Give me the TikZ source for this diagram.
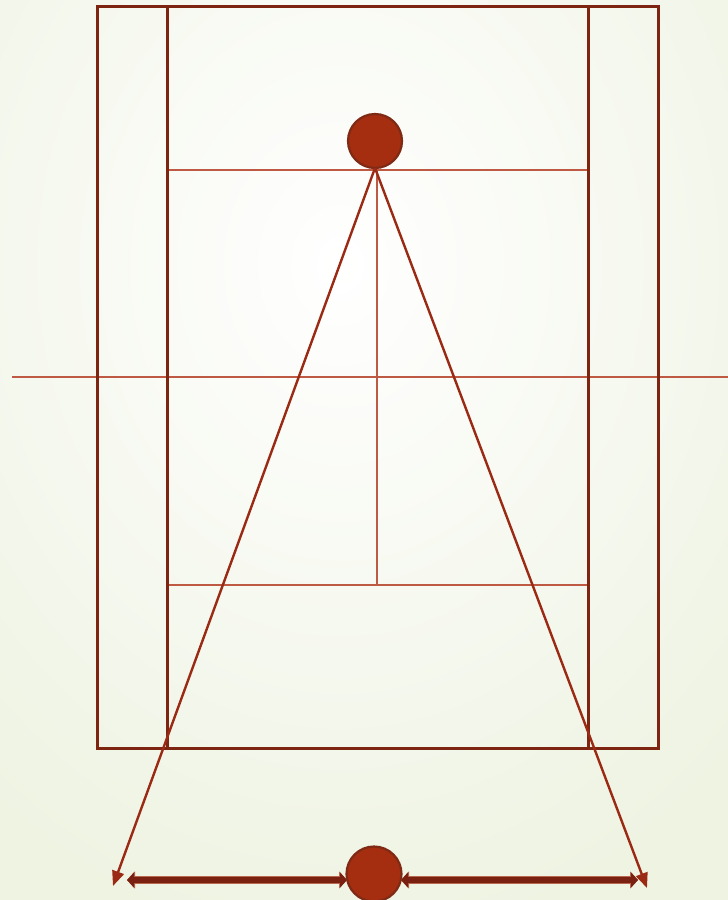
\documentclass[tikz,border=0pt]{standalone}
\usetikzlibrary{arrows.meta}
\definecolor{outerc}{HTML}{7E2512}
\definecolor{innerc}{HTML}{BE5A44}
\definecolor{ballc}{HTML}{A52D10}
\definecolor{balle}{HTML}{7F2A15}
\definecolor{rayc}{HTML}{9A2A14}
\definecolor{arrc}{HTML}{7A2010}
\definecolor{arrb}{HTML}{B8684F}
\definecolor{bgout}{HTML}{EEF3E2}
\begin{document}
\begin{tikzpicture}[x=1pt,y=-1pt,
  outerline/.style={draw=outerc,line width=3pt},
  innerline/.style={draw=innerc,line width=2.2pt},
  ball/.style={circle,fill=ballc,draw=balle,line width=2.2pt,inner sep=0pt},
  ray/.style={draw=rayc,line width=2.4pt,-{Triangle[length=15pt,width=12pt]}},
  widthar/.style={draw=arrc,line width=6pt,
    {Triangle[length=7pt,width=15pt]}-{Triangle[length=7pt,width=15pt]},
    preaction={draw=arrb,line width=8pt,{Triangle[length=8pt,width=17pt]}-{Triangle[length=8pt,width=17pt]}}}]
\useasboundingbox (0,0) rectangle (728,900);
\shade[inner color=white,outer color=bgout] (-220,-420) rectangle (900,950);
% court
\draw[innerline] (167,170) -- (588,170);
\draw[innerline] (167,585) -- (588,585);
\draw[innerline] (377,170) -- (377,585);
\draw[innerline] (12,377) -- (728,377);
\draw[outerline] (167,6) -- (167,748);
\draw[outerline] (588,6) -- (588,748);
\draw[outerline] (97,6) rectangle (658,748);
% balls
\node[ball,minimum size=54pt] (tball) at (375,141) {};
\node[ball,minimum size=55pt] (bball) at (374,874) {};
\coordinate (apex) at (375,168);
\coordinate (lend) at (113,886);
\coordinate (rend) at (647,888);
\draw[ray] (apex) -- (lend);
\draw[ray] (apex) -- (rend);
\coordinate (la) at (127,880);
\coordinate (ra) at (638,880);
\coordinate (lb) at (347,880);
\coordinate (rb) at (401,880);
\draw[widthar] (la) -- (lb);
\draw[widthar] (rb) -- (ra);
\end{tikzpicture}
\end{document}
